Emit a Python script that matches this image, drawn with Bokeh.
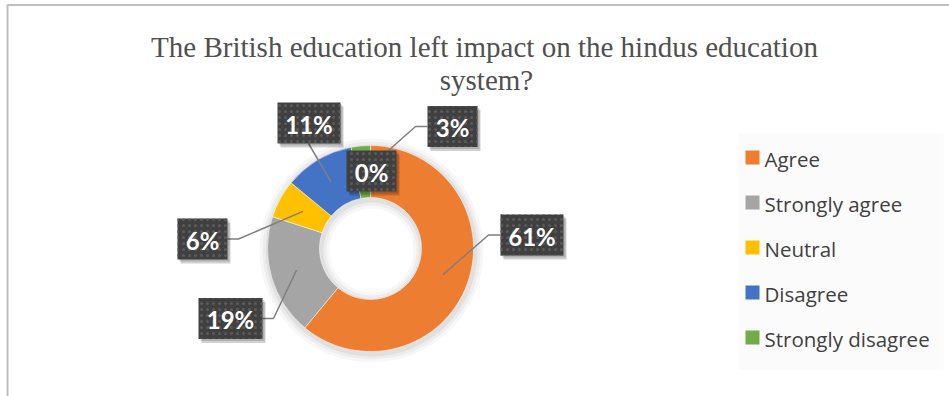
import numpy as np
from bokeh.plotting import figure
from bokeh.models import Range1d, ColumnDataSource
from bokeh.core.properties import value
from bokeh.embed import file_html
from bokeh.resources import INLINE

# ---------------- data ----------------
title_lines = ["The British education left impact on the hindus education", "system?"]
categories = ["Agree", " Strongly agree", "Neutral", "Disagree", "Strongly disagree", ""]
values = [61, 19, 6, 11, 3, 0]
colors = ["#ED7D31", "#A5A5A5", "#FFC000", "#4472C4", "#70AD47", "#5B9BD5"]

# ---------------- layout ----------------
W, H = 949, 396
def Y(y):
    return H - y

CX, CY = 370, 248          # donut centre (screen px)
R_OUT, R_IN = 103, 51
# per-label box: centre (screen px), width, elbow x (None = no elbow), leader end override
label_boxes = [
    dict(cx=531.5, cy=234.5, w=63, elbow=488, end=None),
    dict(cx=230, cy=318, w=64, elbow=273, end=None),
    dict(cx=202, cy=238.5, w=50, elbow=238, end=None),
    dict(cx=308.5, cy=122.5, w=63, elbow=None, end=None, start=(308, 143)),
    dict(cx=452, cy=126, w=50, elbow=415, end=(388, 150)),
    dict(cx=371, cy=170.5, w=50, elbow=None, end="none"),
]
BOX_H = 41

p = figure(width=W, height=H, x_range=Range1d(0, W), y_range=Range1d(0, H),
           output_backend="svg", toolbar_location=None, min_border=0,
           x_axis_type=None, y_axis_type=None)
p.grid.visible = False
p.outline_line_color = None
p.background_fill_color = "white"
p.border_fill_color = "white"

# chart border (top and left visible)
p.segment(x0=[7, 7], y0=[Y(4.5), Y(4)], x1=[W, 7], y1=[Y(4.5), 0],
          line_color="#bfbfbf", line_width=2)

# legend background
p.quad(left=[738], right=[943], top=[Y(133)], bottom=[Y(369)],
       fill_color="#fbfbfb", line_color=None)

# title
p.text(x=[484, 486], y=[Y(46), Y(79)], text=title_lines,
       text_font=value("Liberation Serif"), text_font_size="29px",
       text_color="#505050", text_align="center", text_baseline="middle")

# donut
total = float(sum(values))
fr = np.array(values) / total
cum = np.concatenate([[0], np.cumsum(fr)])
starts = np.pi / 2 - 2 * np.pi * cum[:-1]
ends = np.pi / 2 - 2 * np.pi * cum[1:]
mids = (starts + ends) / 2

# soft shadow around donut
for k, a in [(9, 0.03), (6, 0.04), (3, 0.05)]:
    p.annulus(x=[CX + 1], y=[Y(CY + 2)], inner_radius=R_IN - k, outer_radius=R_OUT + k,
              inner_radius_units="screen", outer_radius_units="screen",
              fill_color="black", fill_alpha=a, line_color=None)

nz = [i for i, v in enumerate(values) if v > 0]
src = ColumnDataSource(dict(
    x=[CX] * len(nz), y=[Y(CY)] * len(nz),
    start=[starts[i] for i in nz], end=[ends[i] for i in nz],
    color=[colors[i] for i in nz]))
p.annular_wedge(x="x", y="y", inner_radius=R_IN, outer_radius=R_OUT,
                inner_radius_units="screen", outer_radius_units="screen",
                start_angle="start", end_angle="end", direction="clock",
                fill_color="color", line_color="white", line_width=0.5, source=src)

# leader lines
R_LEAD = 77
for i, b in enumerate(label_boxes):
    if b["end"] == "none":
        continue
    if b["end"] is None:
        ex = CX + R_LEAD * np.cos(mids[i])
        ey = CY - R_LEAD * np.sin(mids[i])
    else:
        ex, ey = b["end"]
    if b.get("start"):
        xs = [b["start"][0], ex]
        ys = [Y(b["start"][1]), Y(ey)]
    else:
        left_side = b["cx"] > CX
        bx = b["cx"] - b["w"] / 2 if left_side else b["cx"] + b["w"] / 2
        xs = [bx, b["elbow"], ex]
        ys = [Y(b["cy"]), Y(b["cy"]), Y(ey)]
    p.line(x=xs, y=ys, line_color="#7f7f7f", line_width=1.5)

# label boxes
pcts = [f"{round(v / total * 100)}%" for v in values]
bx = [b["cx"] for b in label_boxes]
by = [Y(b["cy"]) for b in label_boxes]
bw = [b["w"] for b in label_boxes]
p.rect(x=[x + 3 for x in bx], y=[y - 4 for y in by], width=bw, height=BOX_H,
       fill_color="black", fill_alpha=0.18, line_color=None)
p.rect(x=[x + 2 for x in bx], y=[y - 2 for y in by], width=bw, height=BOX_H,
       fill_color="black", fill_alpha=0.15, line_color=None)
p.rect(x=bx, y=by, width=bw, height=BOX_H, fill_color="#404040", line_color=None,
       hatch_pattern=".", hatch_color="#5a5a5a", hatch_scale=6, hatch_weight=1.5)
p.text(x=bx, y=[y - 1 for y in by], text=pcts, text_font=value("Lato"),
       text_font_style="bold", text_font_size="24px", text_color="white",
       text_align="center", text_baseline="middle")

# legend
leg_idx = [i for i, c in enumerate(categories) if c.strip()]
leg_y = [157 + 45 * k for k in range(len(leg_idx))]
p.rect(x=[752] * len(leg_idx), y=[Y(v) for v in leg_y], width=14, height=14,
       fill_color=[colors[i] for i in leg_idx], line_color=None)
p.text(x=[764] * len(leg_idx), y=[Y(v + 1) for v in leg_y],
       text=[categories[i] for i in leg_idx], text_font=value("Open Sans"),
       text_font_size="20.5px", text_color="#404040",
       text_align="left", text_baseline="middle")

open("out.html", "w").write(file_html(p, INLINE))
